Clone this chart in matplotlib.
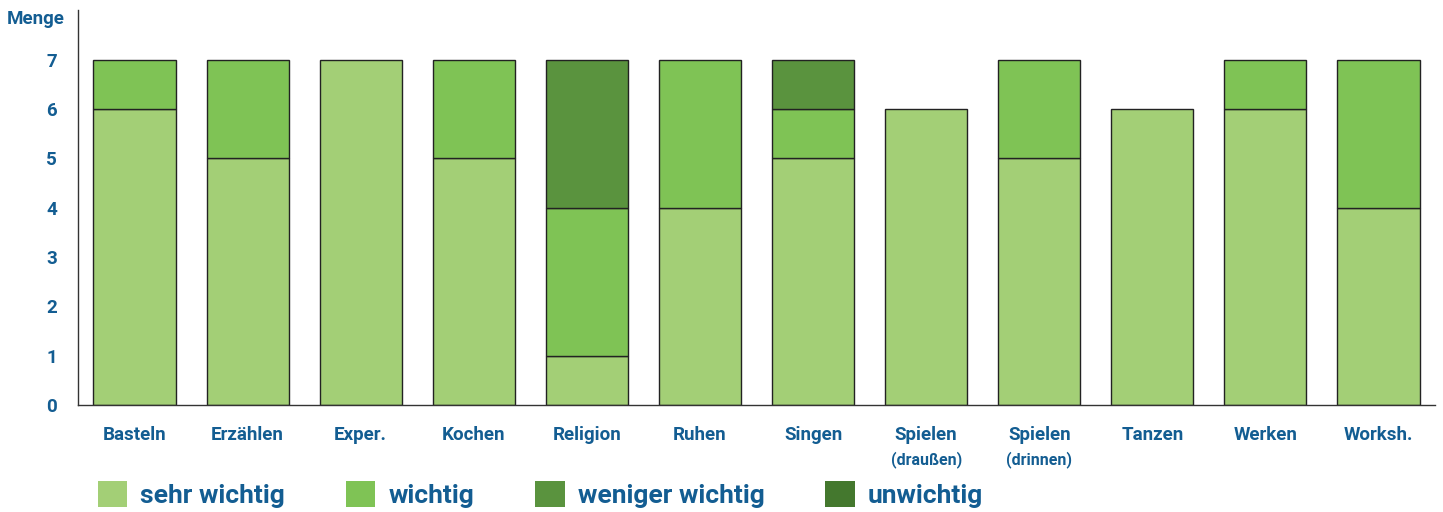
import numpy as np
import matplotlib.pyplot as plt
from matplotlib.patches import Patch
from matplotlib.transforms import blended_transform_factory

plt.rcParams['font.family'] = ['Roboto', 'DejaVu Sans']

categories = ['Basteln', 'Erzählen', 'Exper.', 'Kochen', 'Religion', 'Ruhen', 'Singen',
              'Spielen', 'Spielen', 'Tanzen', 'Werken', 'Worksh.']
subtitles = ['', '', '', '', '', '', '', '(draußen)', '(drinnen)', '', '', '']

sehr_wichtig = [6, 5, 7, 5, 1, 4, 5, 6, 5, 6, 6, 4]
wichtig = [1, 2, 0, 2, 3, 3, 1, 0, 2, 0, 1, 3]
weniger_wichtig = [0, 0, 0, 0, 3, 0, 1, 0, 0, 0, 0, 0]
unwichtig = [0, 0, 0, 0, 0, 0, 0, 0, 0, 0, 0, 0]

series = [('sehr wichtig', sehr_wichtig, '#a3cf76'),
          ('wichtig', wichtig, '#7fc355'),
          ('weniger wichtig', weniger_wichtig, '#5a933e'),
          ('unwichtig', unwichtig, '#44782e')]

text_col = '#135d92'

fig = plt.figure(figsize=(14.43, 5.12), dpi=100)
ax = fig.add_axes([0.054, 0.209, 0.9405, 0.771])

x = np.arange(len(categories))
bottom = np.zeros(len(categories))
for name, vals, col in series:
    vals = np.array(vals, dtype=float)
    mask = vals > 0
    ax.bar(x[mask], vals[mask], bottom=bottom[mask], width=0.726, color=col,
           edgecolor='#222222', linewidth=1.0, zorder=2)
    bottom += vals

ax.set_xlim(-0.5, 11.5)
ax.set_ylim(0, 8.0)
ax.set_yticks(range(0, 8))
ax.set_xticks(x)
ax.set_xticklabels(categories)
ax.tick_params(axis='both', length=0, labelsize=13.5, labelcolor=text_col)
ax.tick_params(axis='x', pad=15)
ax.tick_params(axis='y', pad=15)
for lbl in ax.get_xticklabels() + ax.get_yticklabels():
    lbl.set_fontweight('bold')

trans = blended_transform_factory(ax.transData, ax.transAxes)
for xi, sub in zip(x, subtitles):
    if sub:
        ax.text(xi, -0.137, sub, transform=trans, ha='center', va='center',
                fontsize=11.5, fontweight='bold', color=text_col)

for s in ['top', 'right']:
    ax.spines[s].set_visible(False)
for s in ['left', 'bottom']:
    ax.spines[s].set_color('#333333')
    ax.spines[s].set_linewidth(1.0)

fig.text(0.005, 0.963, 'Menge', fontsize=13.5, fontweight='bold', color=text_col,
         ha='left', va='center')

handles = [Patch(facecolor=col, edgecolor='none', label=name) for name, _, col in series]
leg = fig.legend(handles=handles, loc='lower left', bbox_to_anchor=(0.053, -0.034),
                 ncol=4, frameon=False, handlelength=1.12, handleheight=1.12,
                 handletextpad=0.5, columnspacing=2.3, borderpad=0.3,
                 prop={'size': 19, 'weight': 'bold'})
for t in leg.get_texts():
    t.set_color(text_col)

fig.savefig('out.png', dpi=100)
